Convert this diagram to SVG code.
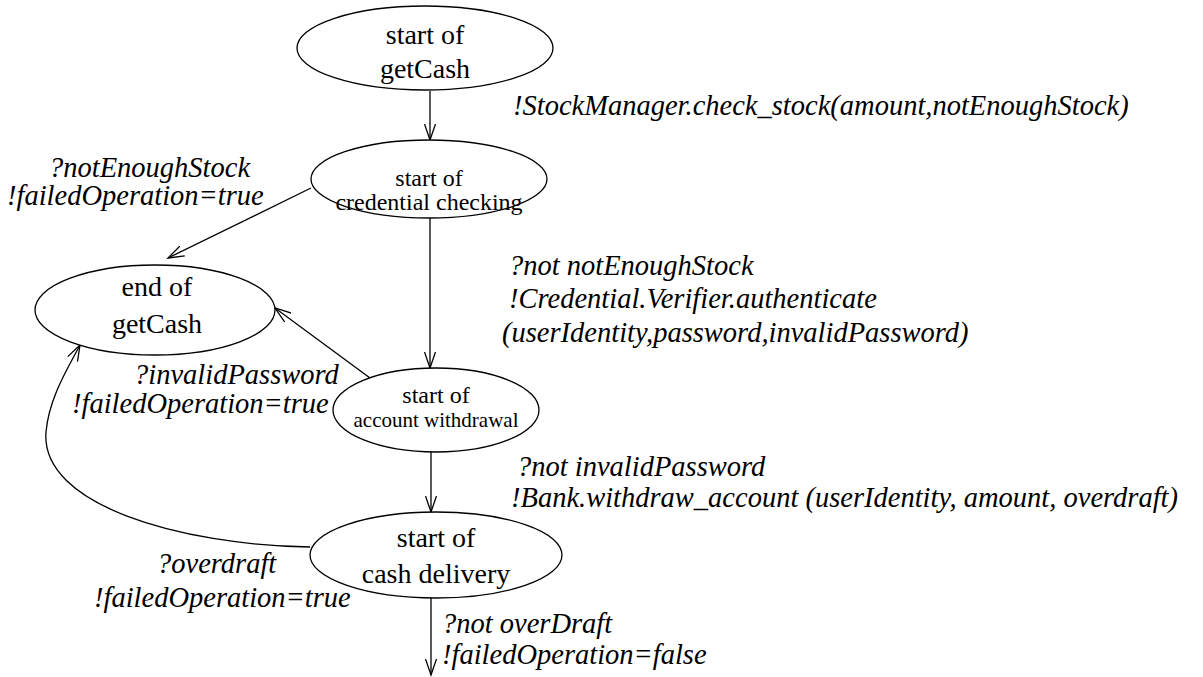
<svg xmlns="http://www.w3.org/2000/svg" width="1203" height="677" viewBox="0 0 1203 677">
  <style>
    .state { fill: #fff; stroke: #000; stroke-width: 1.3; }
    .name { font-family: "Liberation Serif", "Times New Roman", serif; fill: #000; text-anchor: middle; }
    .big { font-size: 28px; }
    .mid { font-size: 24px; }
    .small { font-size: 21px; }
    /* guard/action labels */
    .label { font-family: "Liberation Serif", "Times New Roman", serif; font-style: italic; font-size: 28.5px; fill: #000; }
    .edge { fill: none; stroke: #000; stroke-width: 1.3; marker-end: url(#vee); }
  </style>
  <defs>
    <marker id="vee" markerUnits="userSpaceOnUse" markerWidth="18" markerHeight="12" refX="16" refY="6" orient="auto" viewBox="0 0 18 12">
      <path d="M0,0.5 L16,6 L0,11.5" fill="none" stroke="#000" stroke-width="1.3"/>
    </marker>
  </defs>
  <rect width="1203" height="677" fill="#fff"/>

  <!-- transitions -->
  <g id="connectors">
    <path class="edge" d="M430,91 L430,140"/>
    <path class="edge" d="M430,218 L430,368"/>
    <path class="edge" d="M431,452 L431,512"/>
    <path class="edge" d="M431,597 L431,675"/>
    <path class="edge" d="M311,188 L168,258"/>
    <path class="edge" d="M370,378 L275,308"/>
    <path class="edge" d="M310,547 C180,545 40,505 46,432 C49,398 68,368 80,345"/>
  </g>

  <!-- transition labels -->
  <g id="labels">
    <text class="label" x="513" y="115">!StockManager.check_stock(amount,notEnoughStock)</text>
    <text class="label" x="49" y="177">?notEnoughStock</text>
    <text class="label" x="7" y="205">!failedOperation=true</text>
    <text class="label" x="509" y="275">?not notEnoughStock</text>
    <text class="label" x="509" y="308">!Credential.Verifier.authenticate</text>
    <text class="label" x="502" y="342">(userIdentity,password,invalidPassword)</text>
    <text class="label" x="134" y="384">?invalidPassword</text>
    <text class="label" x="72" y="413">!failedOperation=true</text>
    <text class="label" x="517" y="476">?not invalidPassword</text>
    <text class="label" x="511" y="507">!Bank.withdraw_account (userIdentity, amount, overdraft)</text>
    <text class="label" x="157" y="573">?overdraft</text>
    <text class="label" x="94" y="607">!failedOperation=true</text>
    <text class="label" x="442" y="633">?not overDraft</text>
    <text class="label" x="442" y="664">!failedOperation=false</text>
  </g>

  <g id="start-getCash">
    <ellipse class="state" cx="425" cy="48" rx="128" ry="42"/>
    <text class="name big" x="425" y="44">start of</text>
    <text class="name big" x="425" y="78">getCash</text>
  </g>

  <g id="start-credential-checking">
    <ellipse class="state" cx="429" cy="179" rx="118" ry="39"/>
    <text class="name mid" x="429" y="186">start of</text>
    <text class="name mid" x="429" y="210">credential checking</text>
  </g>

  <g id="end-getCash">
    <ellipse class="state" cx="155" cy="310" rx="120" ry="45"/>
    <text class="name big" x="157" y="296">end of</text>
    <text class="name big" x="157" y="333">getCash</text>
  </g>

  <g id="start-account-withdrawal">
    <ellipse class="state" cx="436" cy="410" rx="103" ry="42"/>
    <text class="name mid" x="436" y="403">start of</text>
    <text class="name small" x="436" y="427">account withdrawal</text>
  </g>

  <g id="start-cash-delivery">
    <ellipse class="state" cx="436" cy="555" rx="126" ry="43"/>
    <text class="name big" x="436" y="547">start of</text>
    <text class="name big" x="436" y="583">cash delivery</text>
  </g>
</svg>
